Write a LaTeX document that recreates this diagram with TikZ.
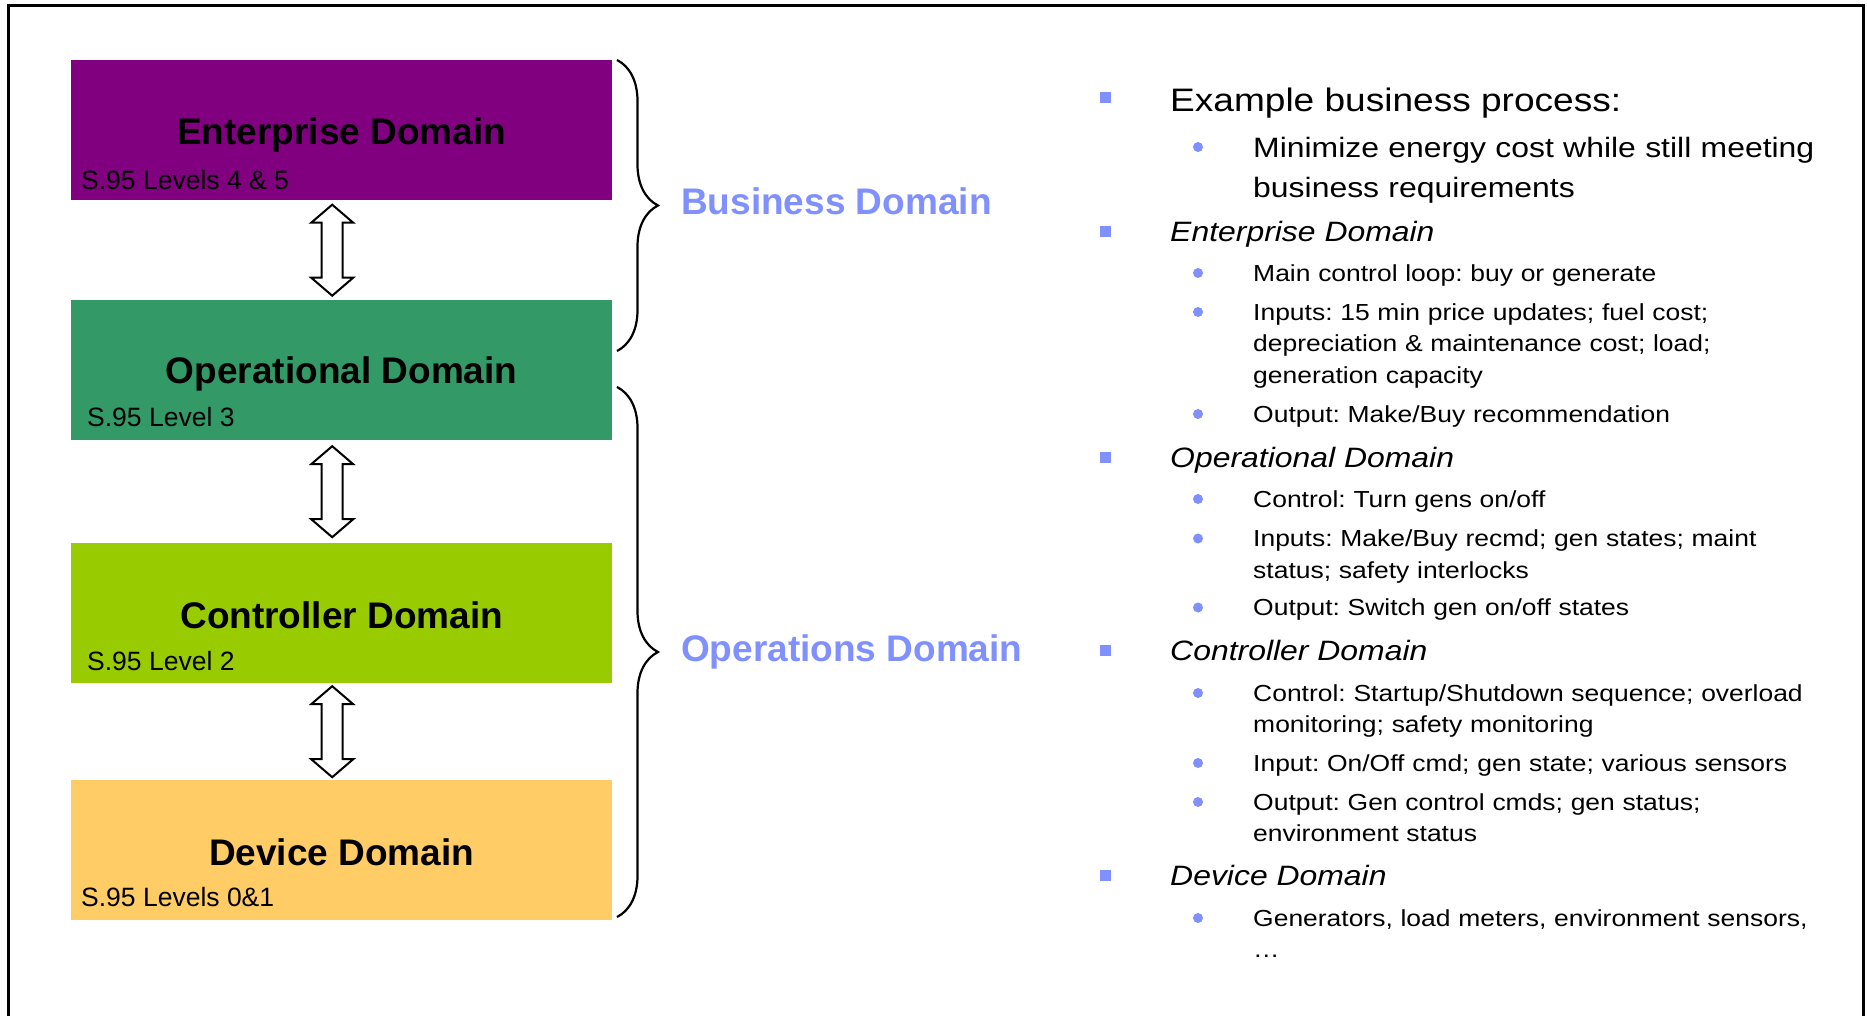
\documentclass[tikz,border=0pt]{standalone}
\usepackage{fontspec}
\setmainfont{Liberation Sans}
\newfontfamily\notefont[FakeStretch=1.14]{Liberation Sans}
\usetikzlibrary{decorations.pathreplacing,calc}
\definecolor{entpurple}{HTML}{800080}
\definecolor{oprgreen}{HTML}{339966}
\definecolor{ctlgreen}{HTML}{99CC00}
\definecolor{devyellow}{HTML}{FFCC66}
\definecolor{domblue}{HTML}{8090FF}
\frenchspacing
\tikzset{
  dombox/.style={rectangle, inner sep=0, minimum width=541pt, minimum height=140pt, anchor=north west},
  domtitle/.style={anchor=base, inner sep=0, font=\fontsize{37}{44}\selectfont\bfseries},
  domlevel/.style={anchor=base west, inner sep=0, font=\fontsize{26.5}{32}\selectfont},
  updown/.style={draw, line width=2pt, fill=white, line join=miter},
  groupbrace/.style={decorate, decoration={brace, amplitude=41pt}, line width=2.2pt},
  grouplabel/.style={anchor=base west, inner sep=0, text=domblue, font=\fontsize{37}{44}\selectfont\bfseries},
  topbullet/.style={rectangle, fill=domblue, minimum size=11pt, inner sep=0},
  subbullet/.style={circle, fill=domblue, minimum size=10pt, inner sep=0},
  toplead/.style={anchor=base west, inner sep=0, font=\notefont\fontsize{32.5}{40}\selectfont},
  sublead/.style={anchor=base west, inner sep=0, text width=620pt, align=left, font=\notefont\fontsize{28}{40}\selectfont},
  domhead/.style={anchor=base west, inner sep=0, font=\notefont\fontsize{28}{34}\selectfont\itshape},
  subitem/.style={anchor=base west, inner sep=0, text width=620pt, align=left, font=\notefont\fontsize{23.2}{31.5}\selectfont}
}
\begin{document}
\begin{tikzpicture}[x=1pt, y=-1pt]
  \useasboundingbox (0,0) rectangle (1867,1016);
  \draw[line width=3pt] (8,1016) -- (8,6) -- (1863,6) -- (1863,1016);

  \node[dombox, fill=entpurple] (ent) at (71,60) {};
  \node[dombox, fill=oprgreen] (opr) at (71,300) {};
  \node[dombox, fill=ctlgreen] (ctl) at (71,543) {};
  \node[dombox, fill=devyellow] (dev) at (71,780) {};

  \node[domtitle] (entname) at ([yshift=-85pt]ent.north) {Enterprise Domain};
  \node[domtitle] (oprname) at ([yshift=-83pt]opr.north) {Operational Domain};
  \node[domtitle] (ctlname) at ([yshift=-85pt]ctl.north) {Controller Domain};
  \node[domtitle] (devname) at ([yshift=-85pt]dev.north) {Device Domain};

  \node[domlevel] (entlvl) at ([shift={(10pt,-130pt)}]ent.north west) {S.95 Levels 4 \& 5};
  \node[domlevel] (oprlvl) at ([shift={(16pt,-126pt)}]opr.north west) {S.95 Level 3};
  \node[domlevel] (ctllvl) at ([shift={(16pt,-127pt)}]ctl.north west) {S.95 Level 2};
  \node[domlevel] (devlvl) at ([shift={(10pt,-126pt)}]dev.north west) {S.95 Levels 0\&1};

  \coordinate (ent2opr) at ($(ent.south)!.5!(opr.north)+(-9.5,0)$);
  \coordinate (opr2ctl) at ($(opr.south)!.5!(ctl.north)+(-9.5,0)$);
  \coordinate (ctl2dev) at ($(ctl.south)!.5!(dev.north)+(-9.5,0)$);
  \foreach \c in {ent2opr, opr2ctl, ctl2dev}
    \draw[updown, shift={(\c)}] (0,-45.5) -- (21,-27.5) -- (10.5,-27.5) -- (10.5,27.5) -- (21,27.5)
      -- (0,45.5) -- (-21,27.5) -- (-10.5,27.5) -- (-10.5,-27.5) -- (-21,-27.5) -- cycle;

  \draw[groupbrace] (617,60) -- (617,351);
  \draw[groupbrace] (617,387) -- (617,917);
  \node[grouplabel] (biz) at (681,215) {Business Domain};
  \node[grouplabel] (ops) at (681,661) {Operations Domain};

  \node[topbullet] (sq0) at (1105,97.5) {};
  \node[toplead] (tx0) at (1170,111.3) {Example business process:};
  \node[subbullet] (dt0) at (1198,147) {};
  \node[sublead] (sx0) at (1253,158) {Minimize energy cost while still meeting\\business requirements};
  \foreach \y/\txt [count=\i] in {232/Enterprise Domain, 457.5/Operational Domain, 650.5/Controller Domain, 875.5/Device Domain}{
    \node[topbullet] (sq\i) at (1105,\y) {};
    \node[domhead] (tx\i) at (1170,\y+10) {\txt};
  }
  \foreach \y/\txt [count=\i] in {273/{Main control loop: buy or generate},
      312/{Inputs: 15 min price updates; fuel cost;\\depreciation \& maintenance cost; load;\\generation capacity},
      414/{Output: Make/Buy recommendation},
      499/{Control: Turn gens on/off},
      538.5/{Inputs: Make/Buy recmd; gen states; maint\\status; safety interlocks},
      607.5/{Output: Switch gen on/off states},
      693/{Control: Startup/Shutdown sequence; overload\\monitoring; safety monitoring},
      763/{Input: On/Off cmd; gen state; various sensors},
      802/{Output: Gen control cmds; gen status;\\environment status},
      918/{Generators, load meters, environment sensors,\\…}}{
    \node[subbullet] (dt\i) at (1198,\y) {};
    \node[subitem] (sx\i) at (1253,\y+8.3) {\txt};
  }
\end{tikzpicture}
\end{document}
